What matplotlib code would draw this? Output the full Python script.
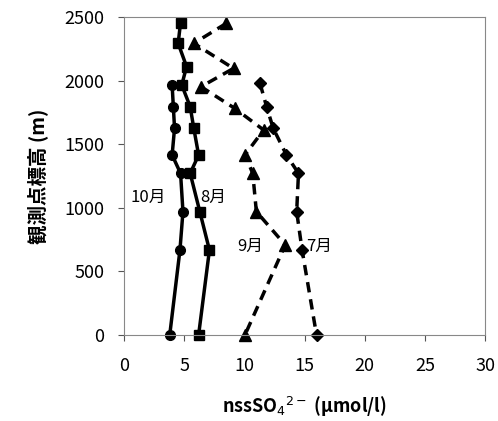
import matplotlib
matplotlib.use("Agg")
import matplotlib.pyplot as plt

plt.rcParams['font.family'] = ['Noto Sans CJK JP', 'DejaVu Sans']

alt_aug = [2455, 2293, 2110, 1965, 1795, 1625, 1415, 1271, 970, 668, 0]
val_aug = [4.7, 4.5, 5.2, 4.8, 5.5, 5.8, 6.2, 5.5, 6.3, 7.1, 6.2]
alt_oct = [1965, 1795, 1625, 1415, 1271, 970, 668, 0]
val_oct = [4.0, 4.1, 4.2, 4.0, 4.7, 4.9, 4.65, 3.8]
alt_sep = [2450, 2293, 2096, 1952, 1782, 1612, 1415, 1271, 970, 708, 0]
val_sep = [8.5, 5.8, 9.1, 6.4, 9.2, 11.6, 10.05, 10.7, 11.0, 13.4, 10.05]
alt_jul = [1979, 1795, 1625, 1415, 1271, 970, 668, 0]
val_jul = [11.3, 11.85, 12.4, 13.5, 14.5, 14.35, 14.8, 16.0]

fig = plt.figure(figsize=(4.98, 4.21), dpi=100)
ax = fig.add_axes([124/498, 1-335/421, (485-124)/498, (335-17)/421])
kw = dict(color='k', lw=2.5, clip_on=False)
ax.plot(val_aug, alt_aug, marker='s', ms=7, ls='-', **kw)
ax.plot(val_oct, alt_oct, marker='o', ms=7, ls='-', **kw)
ax.plot(val_sep, alt_sep, marker='^', ms=8, ls=(0, (3, 2)), **kw)
ax.plot(val_jul, alt_jul, marker='D', ms=6, ls=(0, (3, 2)), **kw)

ax.text(0.5, 1080, '10月', fontsize=12, va='center')
ax.text(6.3, 1080, '8月', fontsize=12, va='center')
ax.text(9.4, 700, '9月', fontsize=12, va='center')
ax.text(15.1, 700, '7月', fontsize=12, va='center')

ax.set_xlim(0, 30)
ax.set_ylim(0, 2500)
ax.set_xticks(range(0, 31, 5))
ax.set_yticks(range(0, 2501, 500))
ax.tick_params(labelsize=13, length=4, colors='#555555', labelcolor='black')
ax.tick_params(axis='x', pad=12)
ax.tick_params(axis='y', pad=10)
for s in ax.spines.values():
    s.set_color('#888888')
ax.set_xlabel('nssSO$_4$$^{2-}$ (μmol/l)', fontsize=13, fontweight='bold', labelpad=14)
ax.set_ylabel('観測点標高 (m)', fontsize=14, fontweight='bold', labelpad=12)
fig.savefig('out.png', dpi=100)
